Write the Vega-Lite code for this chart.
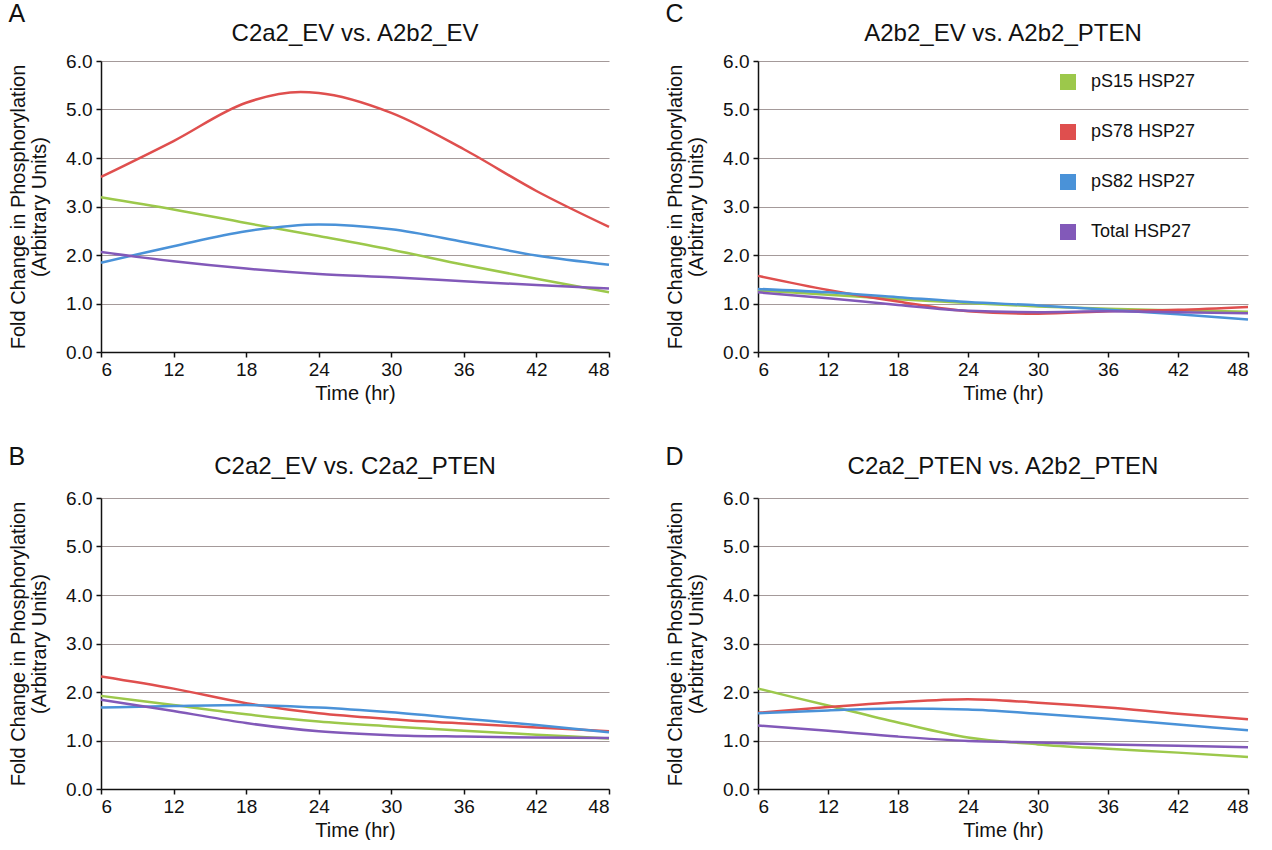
{
  "$schema": "https://vega.github.io/schema/vega-lite/v6.json",
  "padding": {"left": 8, "top": 2, "right": 5, "bottom": 0},
  "background": "white",
  "config": {
    "font": "Liberation Sans",
    "view": {"stroke": null},
    "title": {"font": "Liberation Sans", "fontWeight": "normal", "color": "#111"},
    "axis": {
      "labelFont": "Liberation Sans", "titleFont": "Liberation Sans",
      "labelFontSize": 19, "titleFontSize": 20, "titleFontWeight": "normal", "titleLineHeight": 21,
      "labelColor": "#111", "titleColor": "#111",
      "domainColor": "#111", "domainWidth": 1.5, "tickColor": "#111", "tickWidth": 1.5, "tickSize": 5
    },
    "concat": {"spacing": 0}
  },
  "datasets": {
    "hsp": [
      {"panel": "A", "series": "pS15 HSP27", "time": 6, "value": 3.19},
      {"panel": "A", "series": "pS15 HSP27", "time": 12, "value": 2.94},
      {"panel": "A", "series": "pS15 HSP27", "time": 18, "value": 2.66},
      {"panel": "A", "series": "pS15 HSP27", "time": 24, "value": 2.39},
      {"panel": "A", "series": "pS15 HSP27", "time": 30, "value": 2.11},
      {"panel": "A", "series": "pS15 HSP27", "time": 36, "value": 1.80},
      {"panel": "A", "series": "pS15 HSP27", "time": 42, "value": 1.51},
      {"panel": "A", "series": "pS15 HSP27", "time": 48, "value": 1.23},
      {"panel": "A", "series": "pS78 HSP27", "time": 6, "value": 3.61},
      {"panel": "A", "series": "pS78 HSP27", "time": 12, "value": 4.35},
      {"panel": "A", "series": "pS78 HSP27", "time": 18, "value": 5.14},
      {"panel": "A", "series": "pS78 HSP27", "time": 22.5, "value": 5.36},
      {"panel": "A", "series": "pS78 HSP27", "time": 24, "value": 5.34},
      {"panel": "A", "series": "pS78 HSP27", "time": 30, "value": 4.93},
      {"panel": "A", "series": "pS78 HSP27", "time": 36, "value": 4.18},
      {"panel": "A", "series": "pS78 HSP27", "time": 42, "value": 3.32},
      {"panel": "A", "series": "pS78 HSP27", "time": 48, "value": 2.58},
      {"panel": "A", "series": "pS82 HSP27", "time": 6, "value": 1.84},
      {"panel": "A", "series": "pS82 HSP27", "time": 12, "value": 2.18},
      {"panel": "A", "series": "pS82 HSP27", "time": 18, "value": 2.49},
      {"panel": "A", "series": "pS82 HSP27", "time": 24, "value": 2.63},
      {"panel": "A", "series": "pS82 HSP27", "time": 30, "value": 2.53},
      {"panel": "A", "series": "pS82 HSP27", "time": 36, "value": 2.27},
      {"panel": "A", "series": "pS82 HSP27", "time": 42, "value": 1.99},
      {"panel": "A", "series": "pS82 HSP27", "time": 48, "value": 1.80},
      {"panel": "A", "series": "Total HSP27", "time": 6, "value": 2.06},
      {"panel": "A", "series": "Total HSP27", "time": 12, "value": 1.87},
      {"panel": "A", "series": "Total HSP27", "time": 18, "value": 1.72},
      {"panel": "A", "series": "Total HSP27", "time": 24, "value": 1.61},
      {"panel": "A", "series": "Total HSP27", "time": 30, "value": 1.54},
      {"panel": "A", "series": "Total HSP27", "time": 36, "value": 1.46},
      {"panel": "A", "series": "Total HSP27", "time": 42, "value": 1.38},
      {"panel": "A", "series": "Total HSP27", "time": 48, "value": 1.31},

      {"panel": "B", "series": "pS15 HSP27", "time": 6, "value": 1.92},
      {"panel": "B", "series": "pS15 HSP27", "time": 12, "value": 1.73},
      {"panel": "B", "series": "pS15 HSP27", "time": 18, "value": 1.54},
      {"panel": "B", "series": "pS15 HSP27", "time": 24, "value": 1.39},
      {"panel": "B", "series": "pS15 HSP27", "time": 30, "value": 1.29},
      {"panel": "B", "series": "pS15 HSP27", "time": 36, "value": 1.20},
      {"panel": "B", "series": "pS15 HSP27", "time": 42, "value": 1.12},
      {"panel": "B", "series": "pS15 HSP27", "time": 48, "value": 1.04},
      {"panel": "B", "series": "pS78 HSP27", "time": 6, "value": 2.32},
      {"panel": "B", "series": "pS78 HSP27", "time": 12, "value": 2.07},
      {"panel": "B", "series": "pS78 HSP27", "time": 18, "value": 1.77},
      {"panel": "B", "series": "pS78 HSP27", "time": 24, "value": 1.56},
      {"panel": "B", "series": "pS78 HSP27", "time": 30, "value": 1.44},
      {"panel": "B", "series": "pS78 HSP27", "time": 36, "value": 1.35},
      {"panel": "B", "series": "pS78 HSP27", "time": 42, "value": 1.27},
      {"panel": "B", "series": "pS78 HSP27", "time": 48, "value": 1.19},
      {"panel": "B", "series": "pS82 HSP27", "time": 6, "value": 1.68},
      {"panel": "B", "series": "pS82 HSP27", "time": 12, "value": 1.71},
      {"panel": "B", "series": "pS82 HSP27", "time": 18, "value": 1.73},
      {"panel": "B", "series": "pS82 HSP27", "time": 24, "value": 1.68},
      {"panel": "B", "series": "pS82 HSP27", "time": 30, "value": 1.58},
      {"panel": "B", "series": "pS82 HSP27", "time": 36, "value": 1.45},
      {"panel": "B", "series": "pS82 HSP27", "time": 42, "value": 1.32},
      {"panel": "B", "series": "pS82 HSP27", "time": 48, "value": 1.17},
      {"panel": "B", "series": "Total HSP27", "time": 6, "value": 1.84},
      {"panel": "B", "series": "Total HSP27", "time": 12, "value": 1.61},
      {"panel": "B", "series": "Total HSP27", "time": 18, "value": 1.36},
      {"panel": "B", "series": "Total HSP27", "time": 24, "value": 1.19},
      {"panel": "B", "series": "Total HSP27", "time": 30, "value": 1.11},
      {"panel": "B", "series": "Total HSP27", "time": 36, "value": 1.08},
      {"panel": "B", "series": "Total HSP27", "time": 42, "value": 1.06},
      {"panel": "B", "series": "Total HSP27", "time": 48, "value": 1.05},

      {"panel": "C", "series": "pS15 HSP27", "time": 6, "value": 1.27},
      {"panel": "C", "series": "pS15 HSP27", "time": 12, "value": 1.18},
      {"panel": "C", "series": "pS15 HSP27", "time": 18, "value": 1.09},
      {"panel": "C", "series": "pS15 HSP27", "time": 24, "value": 1.01},
      {"panel": "C", "series": "pS15 HSP27", "time": 30, "value": 0.94},
      {"panel": "C", "series": "pS15 HSP27", "time": 36, "value": 0.89},
      {"panel": "C", "series": "pS15 HSP27", "time": 42, "value": 0.86},
      {"panel": "C", "series": "pS15 HSP27", "time": 48, "value": 0.83},
      {"panel": "C", "series": "pS78 HSP27", "time": 6, "value": 1.57},
      {"panel": "C", "series": "pS78 HSP27", "time": 12, "value": 1.28},
      {"panel": "C", "series": "pS78 HSP27", "time": 18, "value": 1.04},
      {"panel": "C", "series": "pS78 HSP27", "time": 24, "value": 0.84},
      {"panel": "C", "series": "pS78 HSP27", "time": 30, "value": 0.79},
      {"panel": "C", "series": "pS78 HSP27", "time": 36, "value": 0.84},
      {"panel": "C", "series": "pS78 HSP27", "time": 42, "value": 0.87},
      {"panel": "C", "series": "pS78 HSP27", "time": 48, "value": 0.93},
      {"panel": "C", "series": "pS82 HSP27", "time": 6, "value": 1.30},
      {"panel": "C", "series": "pS82 HSP27", "time": 12, "value": 1.23},
      {"panel": "C", "series": "pS82 HSP27", "time": 18, "value": 1.13},
      {"panel": "C", "series": "pS82 HSP27", "time": 24, "value": 1.03},
      {"panel": "C", "series": "pS82 HSP27", "time": 30, "value": 0.96},
      {"panel": "C", "series": "pS82 HSP27", "time": 36, "value": 0.87},
      {"panel": "C", "series": "pS82 HSP27", "time": 42, "value": 0.78},
      {"panel": "C", "series": "pS82 HSP27", "time": 48, "value": 0.67},
      {"panel": "C", "series": "Total HSP27", "time": 6, "value": 1.23},
      {"panel": "C", "series": "Total HSP27", "time": 12, "value": 1.11},
      {"panel": "C", "series": "Total HSP27", "time": 18, "value": 0.97},
      {"panel": "C", "series": "Total HSP27", "time": 24, "value": 0.85},
      {"panel": "C", "series": "Total HSP27", "time": 30, "value": 0.82},
      {"panel": "C", "series": "Total HSP27", "time": 36, "value": 0.84},
      {"panel": "C", "series": "Total HSP27", "time": 42, "value": 0.82},
      {"panel": "C", "series": "Total HSP27", "time": 48, "value": 0.80},

      {"panel": "D", "series": "pS15 HSP27", "time": 6, "value": 2.07},
      {"panel": "D", "series": "pS15 HSP27", "time": 12, "value": 1.72},
      {"panel": "D", "series": "pS15 HSP27", "time": 18, "value": 1.37},
      {"panel": "D", "series": "pS15 HSP27", "time": 24, "value": 1.06},
      {"panel": "D", "series": "pS15 HSP27", "time": 30, "value": 0.92},
      {"panel": "D", "series": "pS15 HSP27", "time": 36, "value": 0.83},
      {"panel": "D", "series": "pS15 HSP27", "time": 42, "value": 0.75},
      {"panel": "D", "series": "pS15 HSP27", "time": 48, "value": 0.66},
      {"panel": "D", "series": "pS78 HSP27", "time": 6, "value": 1.57},
      {"panel": "D", "series": "pS78 HSP27", "time": 12, "value": 1.69},
      {"panel": "D", "series": "pS78 HSP27", "time": 18, "value": 1.79},
      {"panel": "D", "series": "pS78 HSP27", "time": 24, "value": 1.85},
      {"panel": "D", "series": "pS78 HSP27", "time": 30, "value": 1.78},
      {"panel": "D", "series": "pS78 HSP27", "time": 36, "value": 1.68},
      {"panel": "D", "series": "pS78 HSP27", "time": 42, "value": 1.55},
      {"panel": "D", "series": "pS78 HSP27", "time": 48, "value": 1.44},
      {"panel": "D", "series": "pS82 HSP27", "time": 6, "value": 1.56},
      {"panel": "D", "series": "pS82 HSP27", "time": 12, "value": 1.62},
      {"panel": "D", "series": "pS82 HSP27", "time": 18, "value": 1.66},
      {"panel": "D", "series": "pS82 HSP27", "time": 24, "value": 1.64},
      {"panel": "D", "series": "pS82 HSP27", "time": 30, "value": 1.55},
      {"panel": "D", "series": "pS82 HSP27", "time": 36, "value": 1.45},
      {"panel": "D", "series": "pS82 HSP27", "time": 42, "value": 1.33},
      {"panel": "D", "series": "pS82 HSP27", "time": 48, "value": 1.21},
      {"panel": "D", "series": "Total HSP27", "time": 6, "value": 1.31},
      {"panel": "D", "series": "Total HSP27", "time": 12, "value": 1.20},
      {"panel": "D", "series": "Total HSP27", "time": 18, "value": 1.08},
      {"panel": "D", "series": "Total HSP27", "time": 24, "value": 0.99},
      {"panel": "D", "series": "Total HSP27", "time": 30, "value": 0.96},
      {"panel": "D", "series": "Total HSP27", "time": 36, "value": 0.92},
      {"panel": "D", "series": "Total HSP27", "time": 42, "value": 0.89},
      {"panel": "D", "series": "Total HSP27", "time": 48, "value": 0.86}
    ]
  },
  "resolve": {"scale": {"color": "independent"}, "legend": {"color": "independent"}},
  "spacing": 42,
  "vconcat": [
    {
      "resolve": {"scale": {"color": "independent"}, "legend": {"color": "independent"}},
      "spacing": 51,
      "hconcat": [
        {
          "title": {"text": "A", "anchor": "start", "fontSize": 25, "offset": -5, "frame": "bounds"},
          "vconcat": [
            {
              "title": {"text": "C2a2_EV vs. A2b2_EV", "fontSize": 24, "anchor": "middle", "offset": 6},
              "width": 508, "height": 291,
              "data": {"name": "hsp"},
              "transform": [{"filter": "datum.panel === 'A'"}],
              "mark": {"type": "line", "interpolate": "monotone", "strokeWidth": 2.5},
              "encoding": {
                "x": {"field": "time", "type": "quantitative", "title": "Time (hr)", "scale": {"domain": [6, 48], "nice": false, "zero": false}, "axis": {"values": [6, 12, 18, 24, 30, 36, 42, 48], "grid": false, "titlePadding": 4, "labelPadding": 3}},
                "y": {"field": "value", "type": "quantitative", "title": ["Fold Change in Phosphorylation", "(Arbitrary Units)"], "scale": {"domain": [0, 6], "nice": false}, "axis": {"values": [0, 1, 2, 3, 4, 5, 6], "format": ".1f", "grid": true, "gridColor": "#a49a9a", "gridWidth": 1.2, "titlePadding": 16, "labelPadding": 4}},
                "color": {"field": "series", "type": "nominal", "scale": {"domain": ["pS15 HSP27", "pS78 HSP27", "pS82 HSP27", "Total HSP27"], "range": ["#9cc84b", "#df4f4e", "#4a92d8", "#8259b9"]}, "legend": null}
              }
            }
          ]
        },
        {
          "title": {"text": "C", "anchor": "start", "fontSize": 25, "offset": -5, "frame": "bounds"},
          "vconcat": [
            {
              "title": {"text": "A2b2_EV vs. A2b2_PTEN", "fontSize": 24, "anchor": "middle", "offset": 6},
              "width": 490, "height": 291,
              "data": {"name": "hsp"},
              "transform": [{"filter": "datum.panel === 'C'"}],
              "mark": {"type": "line", "interpolate": "monotone", "strokeWidth": 2.5},
              "encoding": {
                "x": {"field": "time", "type": "quantitative", "title": "Time (hr)", "scale": {"domain": [6, 48], "nice": false, "zero": false}, "axis": {"values": [6, 12, 18, 24, 30, 36, 42, 48], "grid": false, "titlePadding": 4, "labelPadding": 3}},
                "y": {"field": "value", "type": "quantitative", "title": ["Fold Change in Phosphorylation", "(Arbitrary Units)"], "scale": {"domain": [0, 6], "nice": false}, "axis": {"values": [0, 1, 2, 3, 4, 5, 6], "format": ".1f", "grid": true, "gridColor": "#a49a9a", "gridWidth": 1.2, "titlePadding": 16, "labelPadding": 4}},
                "color": {"field": "series", "type": "nominal", "scale": {"domain": ["pS15 HSP27", "pS78 HSP27", "pS82 HSP27", "Total HSP27"], "range": ["#9cc84b", "#df4f4e", "#4a92d8", "#8259b9"]},
                  "legend": {"title": null, "orient": "none", "legendX": 301, "legendY": 12, "symbolType": "square", "symbolSize": 49, "symbolStrokeWidth": 9, "symbolOpacity": 1, "labelFontSize": 18, "labelFont": "Liberation Sans", "labelColor": "#111", "rowPadding": 6, "labelOffset": 14}}
              }
            }
          ]
        }
      ]
    },
    {
      "resolve": {"scale": {"color": "independent"}, "legend": {"color": "independent"}},
      "spacing": 51,
      "hconcat": [
        {
          "title": {"text": "B", "anchor": "start", "fontSize": 25, "offset": -15, "frame": "bounds"},
          "vconcat": [
            {
              "title": {"text": "C2a2_EV vs. C2a2_PTEN", "fontSize": 24, "anchor": "middle", "offset": 10},
              "width": 508, "height": 291,
              "data": {"name": "hsp"},
              "transform": [{"filter": "datum.panel === 'B'"}],
              "mark": {"type": "line", "interpolate": "monotone", "strokeWidth": 2.5},
              "encoding": {
                "x": {"field": "time", "type": "quantitative", "title": "Time (hr)", "scale": {"domain": [6, 48], "nice": false, "zero": false}, "axis": {"values": [6, 12, 18, 24, 30, 36, 42, 48], "grid": false, "titlePadding": 4, "labelPadding": 3}},
                "y": {"field": "value", "type": "quantitative", "title": ["Fold Change in Phosphorylation", "(Arbitrary Units)"], "scale": {"domain": [0, 6], "nice": false}, "axis": {"values": [0, 1, 2, 3, 4, 5, 6], "format": ".1f", "grid": true, "gridColor": "#a49a9a", "gridWidth": 1.2, "titlePadding": 16, "labelPadding": 4}},
                "color": {"field": "series", "type": "nominal", "scale": {"domain": ["pS15 HSP27", "pS78 HSP27", "pS82 HSP27", "Total HSP27"], "range": ["#9cc84b", "#df4f4e", "#4a92d8", "#8259b9"]}, "legend": null}
              }
            }
          ]
        },
        {
          "title": {"text": "D", "anchor": "start", "fontSize": 25, "offset": -15, "frame": "bounds"},
          "vconcat": [
            {
              "title": {"text": "C2a2_PTEN vs. A2b2_PTEN", "fontSize": 24, "anchor": "middle", "offset": 10},
              "width": 490, "height": 291,
              "data": {"name": "hsp"},
              "transform": [{"filter": "datum.panel === 'D'"}],
              "mark": {"type": "line", "interpolate": "monotone", "strokeWidth": 2.5},
              "encoding": {
                "x": {"field": "time", "type": "quantitative", "title": "Time (hr)", "scale": {"domain": [6, 48], "nice": false, "zero": false}, "axis": {"values": [6, 12, 18, 24, 30, 36, 42, 48], "grid": false, "titlePadding": 4, "labelPadding": 3}},
                "y": {"field": "value", "type": "quantitative", "title": ["Fold Change in Phosphorylation", "(Arbitrary Units)"], "scale": {"domain": [0, 6], "nice": false}, "axis": {"values": [0, 1, 2, 3, 4, 5, 6], "format": ".1f", "grid": true, "gridColor": "#a49a9a", "gridWidth": 1.2, "titlePadding": 16, "labelPadding": 4}},
                "color": {"field": "series", "type": "nominal", "scale": {"domain": ["pS15 HSP27", "pS78 HSP27", "pS82 HSP27", "Total HSP27"], "range": ["#9cc84b", "#df4f4e", "#4a92d8", "#8259b9"]}, "legend": null}
              }
            }
          ]
        }
      ]
    }
  ]
}
